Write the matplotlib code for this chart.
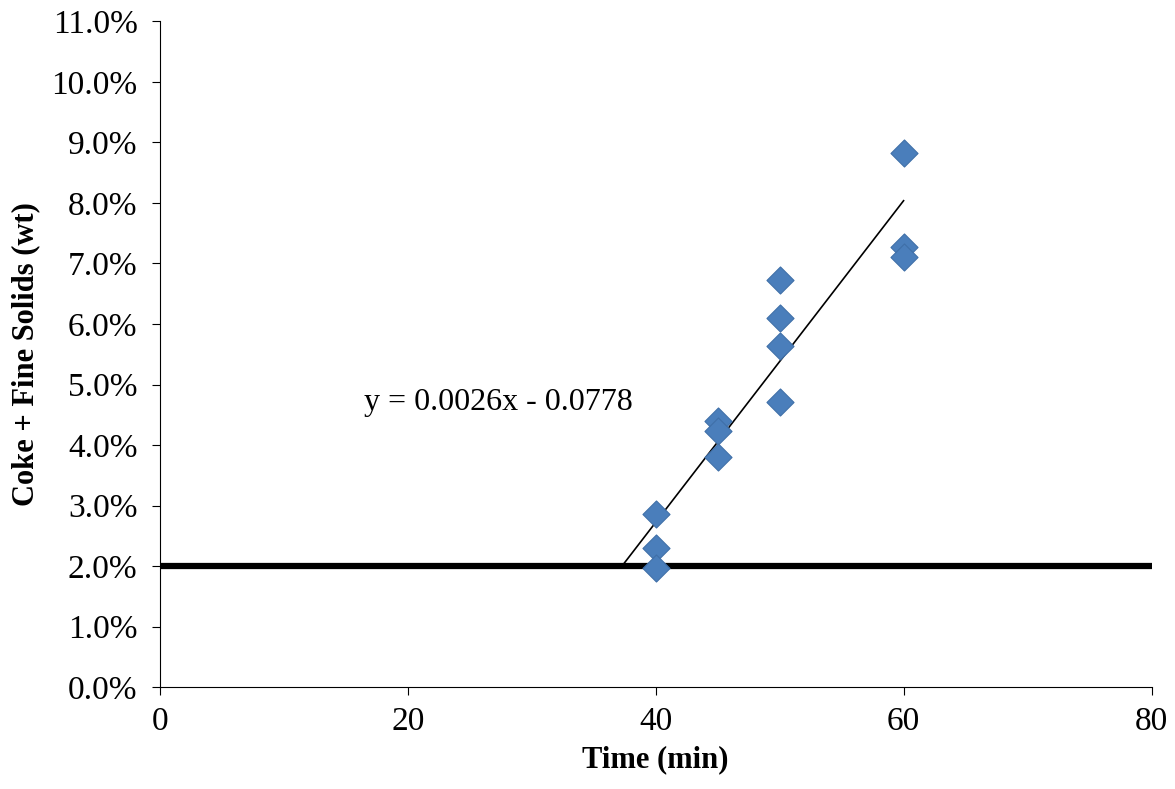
import numpy as np
import matplotlib
matplotlib.use("Agg")
from matplotlib import pyplot as plt
from matplotlib.ticker import FuncFormatter

plt.rcParams["font.family"] = ["Liberation Serif", "DejaVu Serif"]

# Data
time_min = [40, 40, 40, 45, 45, 45, 50, 50, 50, 50, 60, 60, 60]
solids = [0.0286, 0.0230, 0.0197, 0.0440, 0.0423, 0.0380, 0.0673, 0.0610,
          0.0564, 0.0471, 0.0883, 0.0727, 0.0711]
trend_x = [37.4, 60]
limit_y = 0.02

fig = plt.figure(figsize=(11.75, 7.89), dpi=100)
ax = fig.add_axes([0.136, 0.129, 0.844, 0.844])

ax.axhline(limit_y, color="black", linewidth=4.5, zorder=1)
slope, intercept = np.polyfit(time_min, solids, 1)
tx = np.array(trend_x)
ax.plot(tx, slope * tx + intercept, color="black", linewidth=1.2, zorder=2)
ax.scatter(time_min, solids, marker="D", s=190, color="#4A7EBB",
           edgecolors="#3F6FA8", linewidths=0.8, zorder=3)

ax.text(16.5, 0.047, "y = 0.0026x - 0.0778", fontsize=23, va="center")

ax.set_xlim(0, 80)
ax.set_ylim(0, 0.11)
ax.set_xticks(np.arange(0, 81, 20))
ax.set_yticks(np.arange(0, 0.1101, 0.01))
ax.yaxis.set_major_formatter(FuncFormatter(lambda v, p: f"{v*100:.1f}%"))
ax.tick_params(labelsize=24, direction="out", length=6)
ax.tick_params(axis="y", pad=10)
ax.tick_params(axis="x", pad=8)
ax.spines["top"].set_visible(False)
ax.spines["right"].set_visible(False)

ax.set_xlabel("Time (min)", fontsize=22, fontweight="bold", labelpad=6)
ax.set_ylabel("Coke + Fine Solids (wt)", fontsize=22, fontweight="bold", labelpad=8)

fig.savefig("out.png", dpi=100)
